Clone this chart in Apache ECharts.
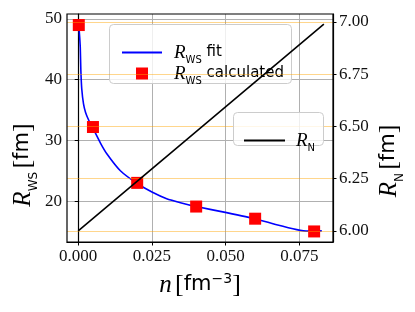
<!DOCTYPE html>
<html>
<head>
<meta charset="utf-8">
<script src="https://cdn.jsdelivr.net/npm/echarts@6/dist/echarts.min.js"></script>
<style>html,body{margin:0;padding:0;background:#fff}#c{width:415px;height:312px}</style>
</head>
<body>
<div id="c"></div>
<script>
// ---- data ----
const nCalc = [0.0002, 0.005, 0.02, 0.04, 0.06, 0.08];
const rwsCalc = [49.0, 32.2, 23.0, 19.1, 17.1, 15.0];
const nFit = [0.0002, 0.0005, 0.0007, 0.0009, 0.0012, 0.0018, 0.0025, 0.0035, 0.005, 0.0075, 0.0097, 0.0143, 0.02, 0.025, 0.03, 0.035, 0.04, 0.0503, 0.06, 0.0673, 0.0741, 0.078, 0.0826];
const rwsFit = [49.0, 47.0, 45.3, 41.5, 38.5, 36.0, 34.6, 33.4, 32.0, 29.6, 27.8, 25.0, 22.9, 21.5, 20.4, 19.7, 19.1, 18.1, 17.1, 16.1, 15.3, 15.05, 15.1];
const nLine = [0.0, 0.0833];
const rnLine = [6.0, 6.99];
const xTicks = [0, 0.025, 0.05, 0.075];
const leftTicks = [20, 30, 40, 50];
const rightTicks = [6.0, 6.25, 6.5, 6.75, 7.0];

const zip = (a, b) => a.map((v, i) => [v, b[i]]);
const serif = '"Liberation Serif", "DejaVu Serif", serif';
const sans = '"DejaVu Sans", sans-serif';
const richCommon = {
  i: {fontFamily: serif, fontStyle: 'italic', fontSize: 19, color: '#000'},
  s: {fontFamily: sans, fontSize: 10, color: '#000', verticalAlign: 'bottom', padding: [0, 0, -3, 0]},
  t: {fontFamily: sans, fontSize: 15, color: '#000'}
};
const tickLabel = {fontFamily: serif, fontSize: 17, color: '#111'};

const chart = echarts.init(document.getElementById('c'), null, {renderer: 'canvas'});
chart.setOption({
  animation: false,
  grid: {left: 67, right: 82, top: 14, bottom: 70, show: true, borderColor: '#000', borderWidth: 1.2, z: 10},
  xAxis: {
    type: 'value', min: -0.0038, max: 0.0864, z: 1,
    axisLine: {show: true, lineStyle: {color: '#000', width: 1.2}},
    axisTick: {show: true, length: 3.5, customValues: xTicks, lineStyle: {color: '#000'}},
    axisLabel: {customValues: xTicks, margin: 6, formatter: v => Number(v).toFixed(3), ...tickLabel},
    splitLine: {show: true, lineStyle: {color: '#b0b0b0', width: 1}}
  },
  yAxis: [{
    type: 'value', min: 13.26, max: 50.82, position: 'left', z: 1,
    axisLine: {show: true, lineStyle: {color: '#000', width: 1.2}},
    axisTick: {show: true, length: 3.5, customValues: leftTicks, lineStyle: {color: '#000'}},
    axisLabel: {customValues: leftTicks, margin: 5, formatter: v => String(Math.round(v)), ...tickLabel},
    splitLine: {show: true, lineStyle: {color: '#b0b0b0', width: 1}}
  }, {
    type: 'value', min: 5.947, max: 7.038, position: 'right', z: 6,
    axisLine: {show: true, lineStyle: {color: '#000', width: 1.2}},
    axisTick: {show: true, length: 3.5, customValues: rightTicks, lineStyle: {color: '#000'}},
    axisLabel: {customValues: rightTicks, margin: 6, formatter: v => Number(v).toFixed(2), ...tickLabel},
    splitLine: {show: true, lineStyle: {color: 'rgba(255,165,0,0.45)', width: 1}}
  }],
  legend: [{
    data: [{name: 'fit', icon: 'rect'}], left: 117, top: 38, itemWidth: 40, itemHeight: 2, z: 5, selectedMode: false,
    formatter: () => '{g|}{i|R}{s|WS}{t| fit}',
    textStyle: {rich: {...richCommon, g: {width: 7}}}
  }, {
    data: [{name: 'calc', icon: 'rect'}], left: 131, top: 59, itemWidth: 12, itemHeight: 12, z: 5, selectedMode: false,
    formatter: () => '{g|}{i|R}{s|WS}{t| calculated}',
    textStyle: {rich: {...richCommon, g: {width: 21}}}
  }, {
    data: [{name: 'rn', icon: 'rect'}], left: 239, top: 126, itemWidth: 41, itemHeight: 2, z: 9, selectedMode: false,
    formatter: () => '{g|}{i|R}{s|N}',
    textStyle: {rich: {...richCommon, g: {width: 6}}}
  }],
  graphic: [
    {type: 'rect', z: 4, shape: {x: 109.5, y: 24.5, width: 182, height: 59, r: 4},
     style: {fill: 'rgba(255,255,255,0.8)', stroke: '#cccccc', lineWidth: 1}},
    {type: 'rect', z: 8, shape: {x: 233.5, y: 112.5, width: 90, height: 33, r: 4},
     style: {fill: 'rgba(255,255,255,0.8)', stroke: '#cccccc', lineWidth: 1}},
    {type: 'text', z: 20, x: 200, y: 285, style: {
      text: '{n|n} {b|[}{f|fm}{u|−3}{b|]}', align: 'center', verticalAlign: 'middle',
      rich: {
        n: {fontFamily: serif, fontStyle: 'italic', fontSize: 25, fill: '#000'},
        b: {fontFamily: serif, fontSize: 26, fill: '#000'},
        f: {fontFamily: sans, fontSize: 21, fill: '#000'},
        u: {fontFamily: sans, fontSize: 14, fill: '#000', verticalAlign: 'top', padding: [0, 0, 10, 0]}
      }}},
    {type: 'text', z: 20, x: 23, y: 165, rotation: Math.PI / 2, style: {
      text: '{r|R}{s|WS} {b|[}{f|fm}{b|]}', align: 'center', verticalAlign: 'middle',
      rich: {
        r: {fontFamily: serif, fontStyle: 'italic', fontSize: 25, fill: '#000'},
        s: {fontFamily: sans, fontSize: 12, fill: '#000', verticalAlign: 'bottom', padding: [0, 0, -4, 0]},
        b: {fontFamily: serif, fontSize: 26, fill: '#000'},
        f: {fontFamily: sans, fontSize: 21, fill: '#000'}
      }}},
    {type: 'text', z: 20, x: 389, y: 161, rotation: Math.PI / 2, style: {
      text: '{r|R}{s|N} {b|[}{f|fm}{b|]}', align: 'center', verticalAlign: 'middle',
      rich: {
        r: {fontFamily: serif, fontStyle: 'italic', fontSize: 25, fill: '#000'},
        s: {fontFamily: sans, fontSize: 12, fill: '#000', verticalAlign: 'bottom', padding: [0, 0, -4, 0]},
        b: {fontFamily: serif, fontSize: 26, fill: '#000'},
        f: {fontFamily: sans, fontSize: 21, fill: '#000'}
      }}}
  ],
  series: [{
    name: 'fit', type: 'line', yAxisIndex: 0, z: 2, data: zip(nFit, rwsFit),
    symbol: 'none', smooth: 0.15, lineStyle: {color: '#0000ff', width: 1.6}, itemStyle: {color: '#0000ff'}
  }, {
    name: 'calc', type: 'scatter', yAxisIndex: 0, z: 3, data: zip(nCalc, rwsCalc),
    symbol: 'rect', symbolSize: 12, itemStyle: {color: '#ff0000', opacity: 1}
  }, {
    name: 'rn', type: 'line', yAxisIndex: 1, z: 7, data: zip(nLine, rnLine),
    symbol: 'none', lineStyle: {color: '#000', width: 1.6}, itemStyle: {color: '#000'}
  }]
});
</script>
</body>
</html>
